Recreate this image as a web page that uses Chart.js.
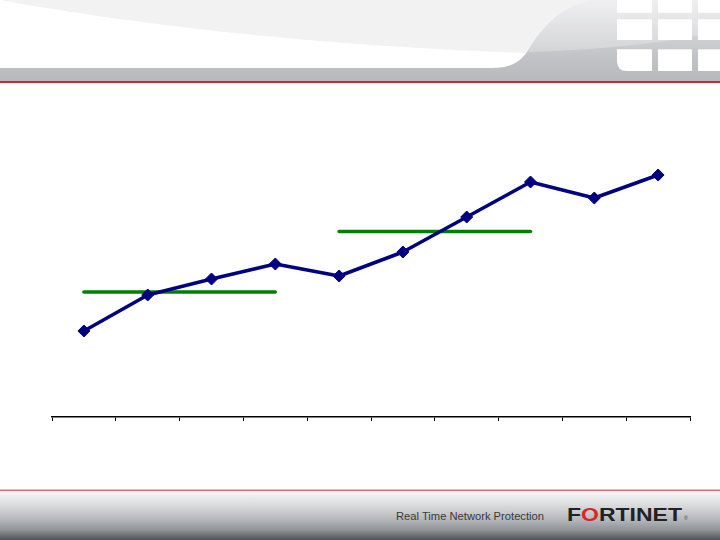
<!DOCTYPE html>
<html lang="en">
<head>
  <meta charset="UTF-8" />
  <title>Trend with period averages</title>
  <script src="https://cdn.jsdelivr.net/npm/chart.js"></script>
  <style>
    html, body { margin: 0; padding: 0; background: #fff; }
    #slide { position: relative; width: 720px; height: 540px; overflow: hidden; font-family: "Liberation Sans", Arial, sans-serif; }
    #decor { position: absolute; left: 0; top: 0; }
    #chart { position: absolute; left: 0; top: 0; }
  </style>
</head>
<body>
  <div id="slide">
    <svg id="decor" width="720" height="540" viewBox="0 0 720 540">
      <defs>
        <linearGradient id="headGrey" x1="0" y1="0" x2="0" y2="1">
          <stop offset="0" stop-color="#ebebed" />
          <stop offset="0.7" stop-color="#c2c3c6" />
          <stop offset="1" stop-color="#b8b9bc" />
        </linearGradient>
        <linearGradient id="footGrey" x1="0" y1="0" x2="0" y2="1">
          <stop offset="0" stop-color="#f8f8f9" />
          <stop offset="0.3" stop-color="#d9dadc" />
          <stop offset="0.6" stop-color="#b2b5b8" />
          <stop offset="0.8" stop-color="#8e9297" />
          <stop offset="1" stop-color="#4e535a" />
        </linearGradient>
      </defs>
      <!-- header -->
      <path d="M0,0 C120,22 300,45 525,53 L720,53 L720,0 Z" fill="#f2f2f2" />
      <path d="M598,0 C565,2 545,25 532,44 C524,58 516,68 492,68 L0,68 L0,81 L720,81 L720,0 Z" fill="url(#headGrey)" />
      <path d="M598,0 C565,2 545,25 532,44 L528,52 C600,50 680,42 720,30 L720,0 Z" fill="#ffffff" opacity="0.25" />
      <g fill="#ffffff">
        <rect x="617" y="0" width="35" height="12.7" />
        <rect x="658" y="0" width="34" height="12.7" />
        <rect x="698" y="0" width="22" height="12.7" />
        <rect x="617" y="19.3" width="35" height="20.7" />
        <rect x="658" y="19.3" width="34" height="20.7" />
        <rect x="698" y="19.3" width="22" height="20.7" />
        <path d="M617,49.3 L652,49.3 L652,71 L627,71 Q617,71 617,61 Z" />
        <rect x="658" y="49.3" width="34" height="21.7" />
        <rect x="698" y="49.3" width="22" height="21.7" />
      </g>
      <rect x="0" y="81" width="720" height="2" fill="#cc2b2b" />
      <!-- footer -->
      <rect x="0" y="489.5" width="720" height="1.5" fill="#e46c6c" />
      <rect x="0" y="491" width="720" height="49" fill="url(#footGrey)" />
      <text x="396" y="520" font-family="Liberation Sans, Arial, sans-serif" font-size="11.5" fill="#3a3a3a" textLength="148" lengthAdjust="spacingAndGlyphs">Real Time Network Protection</text>
      <text x="567" y="521" font-family="Liberation Sans, Arial, sans-serif" font-weight="bold" font-size="18" fill="#222" textLength="115" lengthAdjust="spacingAndGlyphs">F<tspan fill="#d9262a">O</tspan>RTINET</text>
      <text x="684" y="520" font-family="Liberation Sans, Arial, sans-serif" font-size="5" fill="#444">®</text>
    </svg>
    <canvas id="chart" width="720" height="540"></canvas>
  </div>

  <script>
    // ten periods, no labels shown on the axis
    const categories = ['1', '2', '3', '4', '5', '6', '7', '8', '9', '10'];
    const values = [86, 122, 138, 153, 141, 165, 200, 235, 219, 242];
    // period averages
    const avgFirst = [125, 125, 125, 125, null, null, null, null, null, null];
    const avgSecond = [null, null, null, null, 185.5, 185.5, 185.5, 185.5, null, null];

    const navy = '#000080';
    const green = '#008000';

    new Chart(document.getElementById('chart'), {
      type: 'line',
      data: {
        labels: categories,
        datasets: [
          {
            data: values,
            borderColor: navy,
            backgroundColor: navy,
            borderWidth: 3.5,
            borderJoinStyle: 'round',
            pointStyle: 'rectRot',
            pointRadius: 6,
            pointBorderWidth: 1,
            pointBackgroundColor: navy,
            pointBorderColor: navy,
            tension: 0,
            order: 0
          },
          {
            data: avgFirst,
            borderColor: green,
            borderWidth: 3.5,
            borderCapStyle: 'round',
            pointRadius: 0,
            spanGaps: false,
            order: 1
          },
          {
            data: avgSecond,
            borderColor: green,
            borderWidth: 3.5,
            borderCapStyle: 'round',
            pointRadius: 0,
            spanGaps: false,
            order: 1
          }
        ]
      },
      options: {
        responsive: false,
        animation: false,
        devicePixelRatio: 1,
        layout: { padding: { left: 52, right: 30, top: 117, bottom: 119 } },
        plugins: { legend: { display: false }, tooltip: { enabled: false } },
        scales: {
          x: {
            offset: true,
            grid: {
              display: true,
              offset: true,
              drawOnChartArea: false,
              drawTicks: true,
              tickLength: 4,
              color: '#000',
              lineWidth: 1
            },
            border: { display: true, color: '#000', width: 1.5 },
            ticks: { display: false }
          },
          y: {
            display: false,
            min: 0,
            max: 300
          }
        }
      }
    });
  </script>
</body>
</html>
